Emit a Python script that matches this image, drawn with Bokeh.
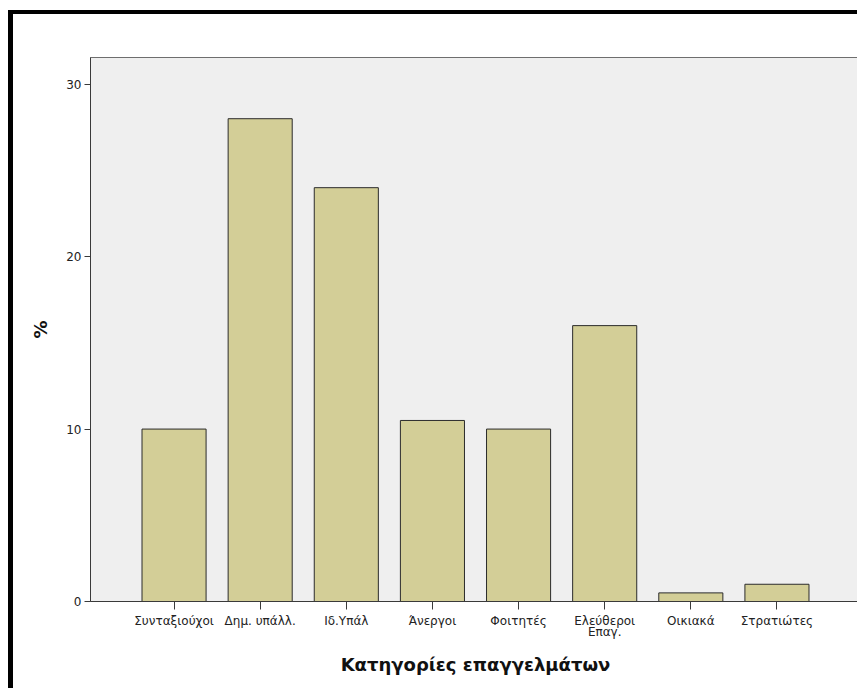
from bokeh.plotting import figure
from bokeh.models import FactorRange, Range1d, FixedTicker
from bokeh.embed import file_html
from bokeh.resources import INLINE

categories = ["Συνταξιούχοι", "Δημ. υπάλλ.", "Ιδ.Υπάλ", "Άνεργοι", "Φοιτητές",
              "Ελεύθεροι\nΕπαγ.", "Οικιακά", "Στρατιώτες"]
percent = [10.0, 28.0, 24.0, 10.5, 10.0, 16.0, 0.5, 1.0]
y_ticks = [0, 10, 20, 30]

p = figure(
    x_range=FactorRange(factors=categories, range_padding=0.47, range_padding_units="absolute"),
    y_range=Range1d(0, 31.55),
    width=849, height=678,
    output_backend="svg", toolbar_location=None,
    min_border_left=77, min_border_right=2, min_border_top=43, min_border_bottom=91,
    styles={"border-left": "5px solid black", "border-top": "4px solid black",
            "margin-top": "10px", "margin-left": "8px"},
)
p.background_fill_color = "#efefef"
p.border_fill_color = "white"
p.outline_line_color = "#6e6e6e"
p.outline_line_width = 1
p.xgrid.visible = False
p.ygrid.visible = False

p.vbar(x=categories, top=percent, width=0.744, fill_color="#d3ce97",
       line_color="#2b2b2b", line_width=1)

for ax in (p.xaxis[0], p.yaxis[0]):
    ax.axis_line_color = "#3a3a3a"
    ax.major_tick_line_color = "#3a3a3a"
    ax.major_tick_in = 0
    ax.minor_tick_line_color = None
    ax.major_label_text_font = "DejaVu Sans"
    ax.major_label_text_font_size = "12px"
    ax.major_label_text_color = "#222222"
    ax.major_label_text_line_height = 0.85
    ax.axis_label_text_font = "DejaVu Sans"
    ax.axis_label_text_font_style = "bold"
    ax.axis_label_text_font_size = "18px"
    ax.axis_label_text_color = "#111111"

p.yaxis.ticker = FixedTicker(ticks=y_ticks)
p.yaxis.major_tick_out = 6
p.yaxis.major_label_standoff = 3
p.yaxis.axis_label = "%"
p.yaxis.axis_label_standoff = 12

p.xaxis.major_tick_out = 8
p.xaxis.major_label_standoff = 4
p.xaxis.axis_label = "Κατηγορίες επαγγελμάτων"
p.xaxis.axis_label_standoff = 12

open("out.html", "w").write(file_html(p, INLINE))
